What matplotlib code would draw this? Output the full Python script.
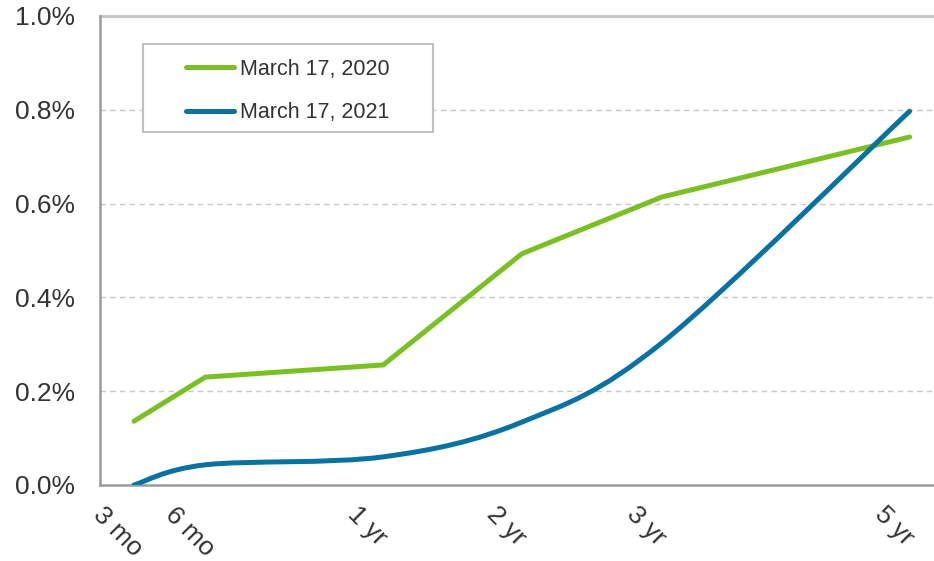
import numpy as np
import matplotlib
matplotlib.use("Agg")
import matplotlib.pyplot as plt
import matplotlib.transforms as mtransforms
from matplotlib.path import Path
from matplotlib.patches import PathPatch, Rectangle
from matplotlib.lines import Line2D
from matplotlib.ticker import FuncFormatter

plt.rcParams["font.family"] = ["Liberation Sans", "DejaVu Sans"]

# tenor labels and their positions along the x axis
tenors = ["3 mo", "6 mo", "1 yr", "2 yr", "3 yr", "5 yr"]
tenor_pos = [0.0, 0.51, 1.78, 2.77, 3.77, 5.54]

# yields in percent
y_2020 = [0.136, 0.230, 0.256, 0.493, 0.614, 0.742]
y_2021 = [0.000, 0.043, 0.060, 0.134, 0.303, 0.797]

label_2020 = "March 17, 2020"
label_2021 = "March 17, 2021"

green = "#7AC024"
blue = "#0A72A0"
text_col = "#333333"


def smooth_path(xs, ys):
    # excel style smoothed line: cubic bezier with catmull-rom control points
    pts = np.column_stack((xs, ys))
    n = len(pts)
    verts = [pts[0]]
    codes = [Path.MOVETO]
    for i in range(n - 1):
        p0 = pts[i - 1] if i > 0 else pts[i]
        p1 = pts[i]
        p2 = pts[i + 1]
        p3 = pts[i + 2] if i + 2 < n else pts[i + 1]
        c1 = p1 + (p2 - p0) / 6.0
        c2 = p2 - (p3 - p1) / 6.0
        verts.extend([c1, c2, p2])
        codes.extend([Path.CURVE4] * 3)
    return Path(verts, codes)


fig = plt.figure(figsize=(9.34, 5.61), dpi=100)
ax = fig.add_axes([0.107, 0.1355, 0.893, 0.836])

ax.set_xlim(-0.243, 5.714)
ax.set_ylim(0, 1.0)

ax.plot(tenor_pos, y_2020, color=green, lw=3.6, solid_capstyle="round",
        solid_joinstyle="round", zorder=3)
ax.add_patch(PathPatch(smooth_path(tenor_pos, y_2021), facecolor="none",
                       edgecolor=blue, lw=3.6, capstyle="round", zorder=4))

# grid
for gy in [0.2, 0.4, 0.6, 0.8]:
    ax.axhline(gy, color="#c8c8c8", lw=1.0, ls=(0, (4, 3)), zorder=1)
ax.axhline(1.0, color="#c4c4c4", lw=2.0, zorder=1, clip_on=False)

for side in ["top", "right"]:
    ax.spines[side].set_visible(False)
ax.spines["left"].set_color("#9a9a9a")
ax.spines["left"].set_linewidth(1.8)
ax.spines["bottom"].set_color("#9a9a9a")
ax.spines["bottom"].set_linewidth(1.8)

ax.set_yticks([0, 0.2, 0.4, 0.6, 0.8, 1.0])
ax.yaxis.set_major_formatter(FuncFormatter(lambda v, p: f"{v:.1f}%"))
ax.tick_params(axis="y", length=0, pad=18, labelsize=19, labelcolor=text_col)

ax.set_xticks(tenor_pos)
ax.set_xticklabels(tenors, rotation=-45, ha="center", fontsize=19, color=text_col)
ax.tick_params(axis="x", length=0, pad=12.5)
shift = mtransforms.ScaledTranslation(-0.16, 0, fig.dpi_scale_trans)
for lab in ax.get_xticklabels():
    lab.set_transform(lab.get_transform() + shift)

# legend box, drawn separately so the padding can differ per side
ax.add_patch(Rectangle((0.0516, 0.7527), 0.348, 0.188, transform=ax.transAxes,
                       facecolor="white", edgecolor="#c0c0c0", lw=1.5, zorder=5))

handles = [Line2D([], [], color=green, lw=3.6, solid_capstyle="round"),
           Line2D([], [], color=blue, lw=3.6, solid_capstyle="round")]
leg = ax.legend(handles, [label_2020, label_2021], loc="center left",
                bbox_to_anchor=(0.103, 0.840), frameon=False,
                fontsize=15.5, handlelength=2.23, handletextpad=0.3,
                borderpad=0, labelspacing=1.06, borderaxespad=0,
                labelcolor=text_col)
leg.set_zorder(6)

fig.savefig("out.png", dpi=100)
